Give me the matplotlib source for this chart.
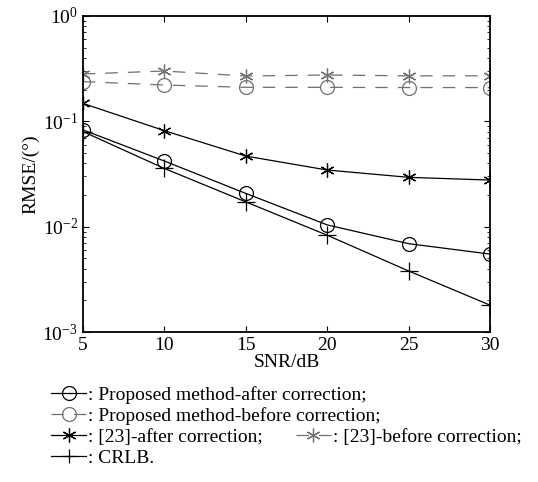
import matplotlib
matplotlib.use("Agg")
import matplotlib.pyplot as plt
import numpy as np

plt.rcParams['font.family'] = ['Liberation Serif', 'DejaVu Serif']
plt.rcParams['mathtext.fontset'] = 'stix'

# data
snr = [5, 10, 15, 20, 25, 30]
prop_after = [0.083, 0.042, 0.0207, 0.0104, 0.0069, 0.0055]
prop_before = [0.238, 0.221, 0.210, 0.210, 0.209, 0.209]
ref23_after = [0.148, 0.0815, 0.0468, 0.0345, 0.0294, 0.0277]
ref23_before = [0.281, 0.300, 0.269, 0.275, 0.270, 0.270]
crlb = [0.080, 0.0357, 0.0172, 0.0083, 0.0038, 0.0018]

gray = '#707070'
lw = 0.9
ms = 10
dash = (0, (10, 8))
fs = 14

fig = plt.figure(figsize=(5.38, 4.82), dpi=100)
ax = fig.add_axes([0.154, 0.311, 0.757, 0.656])

ax.semilogy(snr, prop_after, color='k', lw=lw, marker='o', ms=ms, mfc='none', mew=lw)
ax.semilogy(snr, prop_before, color=gray, lw=lw, ls=dash, marker='o', ms=ms, mfc='none', mew=lw)
ax.semilogy(snr, ref23_after, color='k', lw=lw, marker=(6, 2, 0), ms=ms, mew=lw)
ax.semilogy(snr, ref23_before, color=gray, lw=lw, ls=dash, marker=(6, 2, 0), ms=ms, mew=lw)
ax.semilogy(snr, crlb, color='k', lw=lw, marker='+', ms=ms + 3, mew=lw)

ax.set_xlim(5, 30)
ax.set_ylim(1e-3, 1)
ax.set_xticks([5, 10, 15, 20, 25, 30])
ax.tick_params(which='both', direction='in', top=True, right=True, labelsize=fs)
ax.tick_params(which='major', length=4)
ax.tick_params(which='minor', length=2)
for s in ax.spines.values():
    s.set_linewidth(1.3)
ax.set_xlabel('SNR/dB', fontsize=fs, labelpad=0)
ax.set_ylabel('RMSE/(°)', fontsize=fs, labelpad=2)

# legend below the axes
rows = [
    ([(dict(color='k', ls='-', marker='o', mfc='none'), ': Proposed method-after correction;')], 0.180),
    ([(dict(color=gray, ls=dash, marker='o', mfc='none'), ': Proposed method-before correction;')], 0.137),
    ([(dict(color='k', ls='-', marker=(6, 2, 0)), ': [23]-after correction;'),
      (dict(color=gray, ls=dash, marker=(6, 2, 0)), ': [23]-before correction;')], 0.093),
    ([(dict(color='k', ls='-', marker='+'), ': CRLB.')], 0.050),
]
for entries, yc in rows:
    handles = [plt.Line2D([], [], lw=lw, ms=ms, mew=lw, **h) for h, _ in entries]
    labels = [t for _, t in entries]
    fig.legend(handles, labels, loc='center left', bbox_to_anchor=(0.095, yc),
               ncol=len(entries), frameon=False, fontsize=fs, handlelength=1.8,
               handletextpad=0.1, columnspacing=1.7, borderpad=0, borderaxespad=0)

fig.savefig('out.png', dpi=100)
